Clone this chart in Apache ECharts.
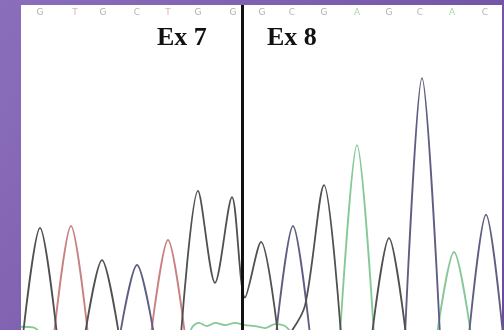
<!DOCTYPE html>
<html>
<head>
<meta charset="utf-8">
<script src="https://cdn.jsdelivr.net/npm/echarts@6/dist/echarts.min.js"></script>
<style>
  html, body { margin: 0; padding: 0; }
  #chart { width: 504px; height: 330px; }
</style>
</head>
<body>
<div id="chart"></div>
<script>
// scan position vs signal, peaks and troughs (null = gap)
const gTrace = [[2, -15], [19, 314], [36, -15], null, [64, -15], [81, 215], [98, -15], null,
  [160, -15], [177, 428], [194, 145], [211, 409], [224, 100], [240, 271], [257, -15], null,
  [268, -15], [284, 75], [303, 446], [320, -15], null, [351, -15], [368, 283], [385, -15]];
const cTrace = [[99, -15], [116, 200], [133, -15], null, [255, -15], [272, 320], [289, -15], null,
  [384, -15], [401, 775], [419, -15], null, [448, -15], [465, 355], [482, -15]];
const tTrace = [[33, -15], [50, 320], [67, -15], null, [130, -15], [147, 277], [164, -15]];
const aTrace = [[0, 10], [12, 8], [22, -15], null, [168, -15], [172, 12], [178, 22], [186, 12],
  [194, 22], [204, 15], [214, 22], [224, 15], [234, 12], [244, 6], [254, 18], [264, 12],
  [272, -15], null, [319, -15], [336, 569], [353, -15], null, [416, -15], [433, 240], [450, -15]];

const baseCalls = ['G', 'T', 'G', 'C', 'T', 'G', 'G', 'G', 'C', 'G', 'A', 'G', 'C', 'A', 'C'];
const basePos = [19, 54, 82, 116, 147, 177, 212, 241, 271, 303, 336, 368, 399, 431, 464];
const exonBoundary = 221;

const traceColors = { G: '#505050', C: '#5e5e82', T: '#c98080', A: '#86c897' };
const callColors = { G: '#999999', C: '#a2a2b2', T: '#dea0a0', A: '#98ca98' };

const chart = echarts.init(document.getElementById('chart'));

function trace(name, data) {
  return {
    name: name,
    type: 'line',
    data: data.map(p => (p === null ? '-' : p)),
    connectNulls: false,
    smooth: 0.3,
    showSymbol: false,
    silent: true,
    clip: true,
    lineStyle: { color: traceColors[name], width: 1.8 }
  };
}

const gSeries = trace('G', gTrace);
gSeries.markLine = {
  silent: true,
  symbol: 'none',
  label: { show: false },
  lineStyle: { color: '#111', width: 3, type: 'solid' },
  data: [{ xAxis: exonBoundary }]
};

chart.setOption({
  animation: false,
  backgroundColor: new echarts.graphic.LinearGradient(0, 0, 1, 1, [
    { offset: 0, color: '#8b6ebb' },
    { offset: 1, color: '#6a4a9f' }
  ]),
  grid: {
    left: 21, right: 2, top: 5, bottom: 0,
    show: true, backgroundColor: '#ffffff', borderWidth: 0
  },
  xAxis: { type: 'value', min: 0, max: 481, show: false },
  yAxis: { type: 'value', min: 0, max: 1000, show: false },
  graphic: [
    { type: 'text', left: 157, top: 25, style: { text: 'Ex 7', font: 'bold 26px "Liberation Serif", serif', fill: '#111' } },
    { type: 'text', left: 267, top: 25, style: { text: 'Ex 8', font: 'bold 26px "Liberation Serif", serif', fill: '#111' } }
  ],
  series: [
    trace('A', aTrace),
    trace('T', tTrace),
    trace('C', cTrace),
    gSeries,
    {
      type: 'scatter',
      silent: true,
      symbolSize: 1,
      itemStyle: { color: 'rgba(0,0,0,0)' },
      data: basePos.map((x, i) => ({
        value: [x, 975],
        name: baseCalls[i],
        label: { color: callColors[baseCalls[i]] }
      })),
      label: {
        show: true,
        position: 'inside',
        formatter: '{b}',
        fontSize: 9,
        fontFamily: 'DejaVu Sans'
      }
    }
  ]
});
</script>
</body>
</html>
